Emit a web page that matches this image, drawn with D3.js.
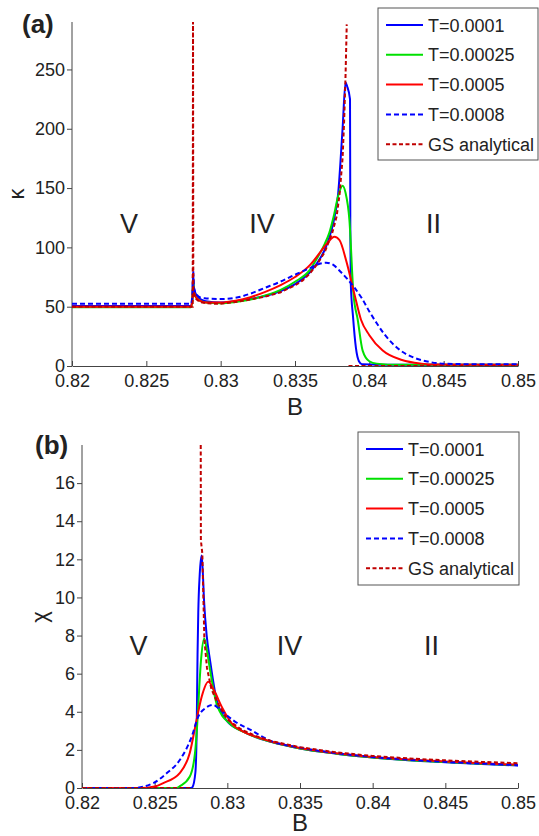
<!DOCTYPE html>
<html>
<head>
<meta charset="utf-8">
<script src="https://cdn.jsdelivr.net/npm/d3@7"></script>
<style>
  body { margin: 0; background: #fff; }
  text { font-family: "Liberation Sans", Arial, sans-serif; fill: #222; }
</style>
</head>
<body>
<div id="chart"></div>
<script>
// Series names (same for both panels)
const seriesNames = ['T=0.0001', 'T=0.00025', 'T=0.0005', 'T=0.0008', 'GS analytical']

// Tick values
const bTicks = [0.82, 0.825, 0.83, 0.835, 0.84, 0.845, 0.85]
const kappaTicks = [0, 50, 100, 150, 200, 250]
const chiTicks = [0, 2, 4, 6, 8, 10, 12, 14, 16]

// Region labels [B position, label]
const regions = [[0.82383, 'V'], [0.83278, 'IV'], [0.84432, 'II']]
const regionsB = [[0.82389, 'V'], [0.83428, 'IV'], [0.84405, 'II']]

// (a) kappa vs B, pairs [B, kappa]  (null = gap in the curve)
const kappaT1 = [[0.82, 50.5], [0.828, 50.5], [0.8281, 58], [0.82815, 78], [0.8282, 66], [0.8284, 59], [0.8287, 56],
  [0.829, 54.5], [0.83, 53.5], [0.831, 54.5], [0.832, 56.5], [0.833, 59], [0.834, 63], [0.835, 69], [0.836, 79],
  [0.8365, 87], [0.837, 98], [0.8373, 108], [0.8376, 122], [0.8379, 145], [0.8382, 200], [0.8384, 239], [0.8385, 236],
  [0.8387, 225], [0.83872, 120], [0.83875, 70], [0.8389, 42], [0.8391, 15], [0.8393, 4], [0.8395, 1.5], [0.842, 1], [0.85, 1]]
const kappaT2 = [[0.82, 49.5], [0.828, 49.5], [0.8281, 55], [0.82815, 72], [0.8282, 62], [0.8284, 57], [0.8287, 54.5],
  [0.829, 53.5], [0.83, 53], [0.831, 54], [0.832, 56], [0.833, 59.5], [0.834, 64], [0.835, 71], [0.836, 81],
  [0.8364, 89], [0.837, 103], [0.8373, 112], [0.8376, 126], [0.8379, 143], [0.8382, 152], [0.8384, 146],
  [0.83866, 123], [0.83893, 61], [0.83922, 39], [0.83955, 13], [0.84, 4], [0.8405, 2], [0.842, 1], [0.85, 1]]
const kappaT3 = [[0.82, 50], [0.828, 50], [0.8281, 56], [0.82815, 68], [0.8282, 62], [0.8284, 57], [0.8287, 54.5],
  [0.829, 53.5], [0.83, 53.5], [0.831, 55], [0.832, 58], [0.833, 62.5], [0.834, 68], [0.835, 75], [0.836, 85],
  [0.8367, 96], [0.8372, 104], [0.83765, 109], [0.838, 106], [0.83844, 89], [0.83899, 61], [0.83944, 39],
  [0.84, 26], [0.8409, 13], [0.8422, 5], [0.8435, 2], [0.8445, 1.2], [0.85, 1]]
const kappaT4 = [[0.82, 52.5], [0.828, 52.5], [0.8281, 60], [0.82815, 80], [0.8282, 66], [0.8284, 60], [0.8287, 57.5],
  [0.829, 57], [0.83, 56.5], [0.831, 57.5], [0.832, 61], [0.833, 66], [0.834, 71], [0.835, 77], [0.836, 82.5],
  [0.8365, 85.5], [0.8371, 87], [0.8376, 85], [0.8381, 79], [0.83855, 73], [0.839, 66], [0.8395, 57], [0.84, 46],
  [0.8405, 36], [0.841, 27], [0.842, 14], [0.843, 7], [0.844, 3.5], [0.845, 2], [0.847, 1.5], [0.85, 1.5]]
const kappaGS = [[0.82, 50], [0.828, 50], [0.82812, 50], [0.82814, 290], [0.82816, 64], [0.8283, 57], [0.8286, 54],
  [0.829, 53], [0.8295, 52.5], [0.83, 52.5], [0.831, 54], [0.832, 56], [0.833, 58.5], [0.834, 62], [0.835, 68],
  [0.8355, 72], [0.836, 78], [0.8365, 86], [0.837, 96], [0.8375, 112], [0.8378, 126], [0.838, 145], [0.8382, 175],
  [0.8383, 205], [0.8384, 245], [0.83848, 288], [0.8385, null], [0.8386, 0], [0.85, 0]]

// (b) chi vs B, pairs [B, chi]
const chiT1 = [[0.82, 0], [0.8275, 0], [0.8276, 0.05], [0.8278, 0.8], [0.82789, 3], [0.82795, 7], [0.828, 9.2],
  [0.8281, 11.2], [0.82823, 12.2], [0.8283, 11.5], [0.8284, 9.8], [0.82858, 8], [0.82881, 6.7], [0.82927, 4.6],
  [0.83, 3.5], [0.831, 3], [0.832, 2.66], [0.833, 2.42], [0.835, 2.07], [0.8375, 1.8], [0.84, 1.6], [0.8425, 1.45],
  [0.845, 1.35], [0.8475, 1.26], [0.85, 1.18]]
const chiT2 = [[0.82, 0], [0.8265, 0], [0.82674, 0.1], [0.82742, 0.6], [0.82777, 1.8], [0.82798, 4], [0.82807, 5.3],
  [0.8282, 6.8], [0.82841, 7.85], [0.8286, 7.2], [0.82881, 6.2], [0.82927, 4.4], [0.8302, 3.35], [0.831, 2.98],
  [0.832, 2.66], [0.833, 2.42], [0.835, 2.07], [0.8375, 1.8], [0.84, 1.6], [0.8425, 1.46], [0.845, 1.36],
  [0.8475, 1.27], [0.85, 1.2]]
const chiT3 = [[0.82, 0], [0.824, 0], [0.825, 0.08], [0.82559, 0.26], [0.82674, 0.8], [0.82742, 1.85], [0.82789, 3.6],
  [0.82824, 4.8], [0.82869, 5.57], [0.8291, 5.1], [0.82961, 4.27], [0.83041, 3.3], [0.831, 3], [0.832, 2.68],
  [0.833, 2.44], [0.835, 2.1], [0.8375, 1.82], [0.84, 1.63], [0.8425, 1.49], [0.845, 1.39], [0.8475, 1.3], [0.85, 1.22]]
const chiT4 = [[0.82, 0], [0.8235, 0], [0.82491, 0.26], [0.82582, 0.77], [0.82674, 1.48], [0.82755, 2.7], [0.828, 3.75],
  [0.8285, 4.2], [0.82903, 4.36], [0.8295, 4.1], [0.8305, 3.5], [0.8316, 3.05], [0.8329, 2.5], [0.835, 2.12],
  [0.8375, 1.83], [0.84, 1.63], [0.8425, 1.48], [0.845, 1.37], [0.8475, 1.28], [0.85, 1.2]]
const chiGS = [[0.82, 0], [0.8276, 0], [0.828, null], [0.82817, 18], [0.82818, 13], [0.82828, 12.3], [0.82842, 7.8],
  [0.8286, 6.3], [0.8289, 5.2], [0.8293, 4.5], [0.83, 3.6], [0.831, 3.05], [0.832, 2.72], [0.833, 2.47], [0.835, 2.14],
  [0.8375, 1.87], [0.84, 1.68], [0.8425, 1.55], [0.845, 1.45], [0.8475, 1.37], [0.85, 1.3]]

// Styles
const colors = ['#0000ff', '#00e000', '#ff0000', '#0000ff', '#c00000']
const dashes = [null, null, null, '5,3', '4,2.5']

const width = 539
const height = 836

const svg = d3.select('#chart')
  .append('svg')
  .attr('width', width)
  .attr('height', height)

function panel(opts) {
  const x = d3.scaleLinear().domain([0.82, 0.85]).range([opts.left, opts.right])
  const y = d3.scaleLinear().domain([0, opts.ymax]).range([opts.bottom, opts.top])
  const g = svg.append('g')

  // clip
  const clipId = 'clip-' + opts.name
  svg.append('clipPath').attr('id', clipId)
    .append('rect')
    .attr('x', opts.left).attr('y', opts.top - 1)
    .attr('width', opts.right - opts.left).attr('height', opts.bottom - opts.top + 1)

  // axes
  const xAxis = g.append('g')
    .attr('transform', `translate(0,${opts.bottom})`)
    .call(d3.axisBottom(x).tickValues(bTicks).tickSizeInner(-5).tickSizeOuter(0).tickPadding(8)
      .tickFormat(d => String(+d.toFixed(3))))
  const yAxis = g.append('g')
    .attr('transform', `translate(${opts.left},0)`)
    .call(d3.axisLeft(y).tickValues(opts.yticks).tickSizeInner(5).tickSizeOuter(0).tickPadding(2))
  yAxis.select('.domain').attr('d', `M0,${opts.top}V${opts.bottom}`)
  ;[xAxis, yAxis].forEach(a => {
    a.selectAll('path, line').attr('stroke', '#444')
    a.selectAll('text').style('font-size', '18px').attr('fill', '#222')
  })

  // curves
  const line = d3.line().defined(d => d[1] != null).x(d => x(d[0])).y(d => y(d[1]))
  const plot = g.append('g').attr('clip-path', `url(#${clipId})`)
  opts.series.forEach((s, i) => {
    plot.append('path')
      .datum(s)
      .attr('fill', 'none')
      .attr('stroke', colors[i])
      .attr('stroke-width', 2)
      .attr('stroke-dasharray', dashes[i])
      .attr('d', line.curve(i === 4 ? d3.curveLinear : d3.curveMonotoneX))
  })

  // region labels
  opts.regions.forEach(r => {
    g.append('text')
      .attr('x', x(r[0]))
      .attr('y', opts.regionY)
      .attr('text-anchor', 'middle')
      .style('font-size', '27px')
      .text(r[1])
  })

  // axis labels
  g.append('text')
    .attr('x', (opts.left + opts.right) / 2)
    .attr('y', opts.bLabelY)
    .attr('text-anchor', 'middle')
    .style('font-size', '24px')
    .text('B')
  g.append('text')
    .attr('transform', `translate(${opts.yLabelX},${opts.yLabelY}) rotate(-90)`)
    .attr('text-anchor', 'middle')
    .style('font-size', '22px')
    .text(opts.ylabel)

  // panel tag
  g.append('text')
    .attr('x', opts.tagX)
    .attr('y', opts.tagY)
    .style('font-size', '26px')
    .style('font-weight', 'bold')
    .text(opts.tag)

  // legend
  const lg = g.append('g').attr('transform', `translate(${opts.legX},${opts.legY})`)
  lg.append('rect')
    .attr('width', opts.legW).attr('height', opts.legH)
    .attr('fill', '#fff').attr('stroke', '#555').attr('stroke-width', 1)
  seriesNames.forEach((n, i) => {
    const ry = 17 + i * 29.8
    lg.append('line')
      .attr('x1', 8).attr('x2', 45).attr('y1', ry).attr('y2', ry)
      .attr('stroke', colors[i]).attr('stroke-width', 2)
      .attr('stroke-dasharray', dashes[i])
    lg.append('text')
      .attr('x', 50).attr('y', ry + 6.5)
      .style('font-size', '18px')
      .text(n)
  })
}

panel({
  name: 'a', left: 72, right: 518, top: 22, bottom: 366, ymax: 290,
  yticks: kappaTicks, ylabel: 'κ', yLabelX: 24, yLabelY: 194,
  series: [kappaT1, kappaT2, kappaT3, kappaT4, kappaGS],
  regions: regions, regionY: 233, bLabelY: 415,
  tag: '(a)', tagX: 22, tagY: 33,
  legX: 378, legY: 8, legW: 160, legH: 152
})

panel({
  name: 'b', left: 82, right: 518, top: 445, bottom: 788, ymax: 18,
  yticks: chiTicks, ylabel: 'χ', yLabelX: 47, yLabelY: 617,
  series: [chiT1, chiT2, chiT3, chiT4, chiGS],
  regions: regionsB, regionY: 655, bLabelY: 831,
  tag: '(b)', tagX: 35, tagY: 454,
  legX: 358, legY: 432, legW: 161, legH: 153
})
</script>
</body>
</html>
